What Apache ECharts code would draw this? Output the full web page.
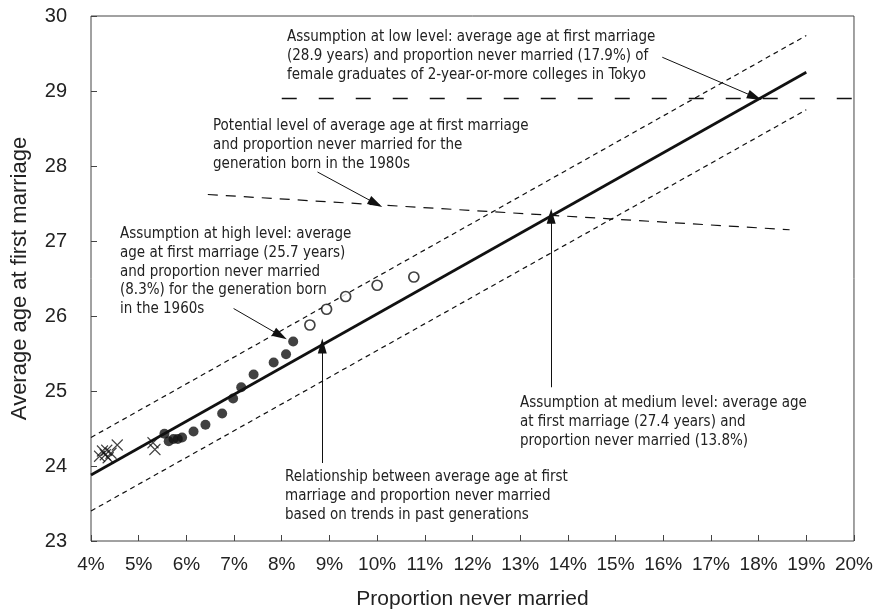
<!DOCTYPE html>
<html>
<head>
<meta charset="utf-8">
<script src="https://cdn.jsdelivr.net/npm/echarts@6/dist/echarts.min.js"></script>
<style>
  html, body { margin: 0; padding: 0; background: #fff; }
  #chart { width: 876px; height: 616px; }
</style>
</head>
<body>
<div id="chart"></div>
<script>
// proportion never married (%) / average age at first marriage
const crossX = [4.18, 4.24, 4.3, 4.36, 4.33, 4.42, 4.55, 5.3, 5.34];
const crossY = [24.13, 24.2, 24.15, 24.11, 24.21, 24.17, 24.28, 24.31, 24.22];
const dotX = [5.54, 5.63, 5.73, 5.82, 5.91, 6.15, 6.4, 6.75, 6.98, 7.15, 7.41, 7.83, 8.09, 8.24];
const dotY = [24.43, 24.33, 24.36, 24.36, 24.38, 24.46, 24.55, 24.7, 24.9, 25.05, 25.22, 25.38, 25.49, 25.66];
const circleX = [8.59, 8.94, 9.34, 10.0, 10.77];
const circleY = [25.88, 26.09, 26.26, 26.41, 26.52];

// trend line and band (ends at 4% and 19%)
const trendX = [4, 19];
const trendY = [23.88, 29.25];
const upperY = [24.38, 29.74];
const lowerY = [23.4, 28.75];
// generation born in the 1980s
const gen80X = [6.45, 18.65];
const gen80Y = [27.62, 27.15];
// low level assumption, 28.9 years
const lowX = [8, 20];
const lowY = [28.9, 28.9];

const xTicks = [4, 20, 1];
const yTicks = [23, 30, 1];

// arrows: [fromX, fromY, toX, toY]
const arrows = [
  [15.98, 29.45, 17.92, 28.92],
  [8.75, 27.92, 9.97, 27.5],
  [6.99, 26.1, 7.97, 25.74],
  [13.65, 25.05, 13.65, 27.33],
  [8.85, 24.04, 8.85, 25.6]
];

const notes = [
  { x: 287, y: 28, text: 'Assumption at low level: average age at first marriage\n(28.9 years) and proportion never married (17.9%) of\nfemale graduates of 2-year-or-more colleges in Tokyo' },
  { x: 213, y: 117, text: 'Potential level of average age at first marriage\nand proportion never married for the\ngeneration born in the 1980s' },
  { x: 120, y: 225, text: 'Assumption at high level: average\nage at first marriage (25.7 years)\nand proportion never married\n(8.3%) for the generation born\nin the 1960s' },
  { x: 520, y: 394, text: 'Assumption at medium level: average age\nat first marriage (27.4 years) and\nproportion never married (13.8%)' },
  { x: 285, y: 468, text: 'Relationship between average age at first\nmarriage and proportion never married\nbased on trends in past generations' }
];

const zip = (xs, ys) => xs.map((x, i) => [x, ys[i]]);
const ink = '#111';
const noteFont = '15px "Liberation Sans Narrow", "DejaVu Sans Condensed", sans-serif';

let myChart = echarts.init(document.getElementById('chart'));
myChart.setOption({
  animation: false,
  grid: { left: 91, right: 22, top: 16, bottom: 75, show: true, borderColor: '#444', borderWidth: 1 },
  xAxis: {
    type: 'value', min: xTicks[0], max: xTicks[1], interval: xTicks[2],
    name: 'Proportion never married', nameLocation: 'middle', nameGap: 48,
    nameTextStyle: { fontSize: 21, color: '#222', fontFamily: 'Liberation Sans, Arial, sans-serif' },
    axisLine: { show: false },
    axisTick: { inside: true, length: 6, lineStyle: { color: '#444' } },
    axisLabel: { formatter: '{value}%', fontSize: 19, color: '#222', margin: 14, fontFamily: 'Liberation Sans, Arial, sans-serif' },
    splitLine: { show: false }
  },
  yAxis: {
    type: 'value', min: yTicks[0], max: yTicks[1], interval: yTicks[2],
    name: 'Average age at first marriage', nameLocation: 'middle', nameGap: 60,
    nameTextStyle: { fontSize: 22, color: '#222', fontFamily: 'Liberation Sans, Arial, sans-serif' },
    axisLine: { show: false },
    axisTick: { inside: true, length: 6, lineStyle: { color: '#444' } },
    axisLabel: { fontSize: 20, color: '#222', margin: 24, fontFamily: 'Liberation Sans, Arial, sans-serif' },
    splitLine: { show: false }
  },
  series: [
    { type: 'line', data: zip(trendX, upperY), symbol: 'none', lineStyle: { color: ink, width: 1.2, type: [5, 4] }, z: 2 },
    { type: 'line', data: zip(trendX, lowerY), symbol: 'none', lineStyle: { color: ink, width: 1.2, type: [5, 4] }, z: 2 },
    { type: 'line', data: zip(lowX, lowY), symbol: 'none', lineStyle: { color: ink, width: 1.3, type: [15, 22] }, z: 2 },
    { type: 'line', data: zip(gen80X, gen80Y), symbol: 'none', lineStyle: { color: ink, width: 1.2, type: [10, 8] }, z: 2 },
    { type: 'line', data: zip(trendX, trendY), symbol: 'none', lineStyle: { color: ink, width: 2.7 }, z: 3 },
    {
      type: 'scatter', data: zip(crossX, crossY), symbol: 'path://M0,0L10,10M10,0L0,10', symbolSize: 11,
      itemStyle: { color: 'none', borderColor: ink, borderWidth: 1.1 }, z: 4
    },
    { type: 'scatter', data: zip(dotX, dotY), symbol: 'circle', symbolSize: 10, itemStyle: { color: ink }, z: 4 },
    {
      type: 'scatter', data: zip(circleX, circleY), symbol: 'circle', symbolSize: 10,
      itemStyle: { color: '#fff', borderColor: ink, borderWidth: 1.7 }, z: 4
    },
    {
      type: 'line', data: [], z: 5,
      markLine: {
        silent: true, animation: false,
        symbol: ['none', 'triangle'], symbolSize: [9, 15],
        label: { show: false },
        lineStyle: { color: ink, width: 1, type: 'solid' },
        data: arrows.map(a => [{ coord: [a[0], a[1]] }, { coord: [a[2], a[3]] }])
      }
    }
  ],
  graphic: notes.map(n => ({
    type: 'text', x: n.x, y: n.y, z: 10,
    style: { text: n.text, font: noteFont, lineHeight: 18.7, fill: '#222', verticalAlign: 'top' }
  }))
});
</script>
</body>
</html>
